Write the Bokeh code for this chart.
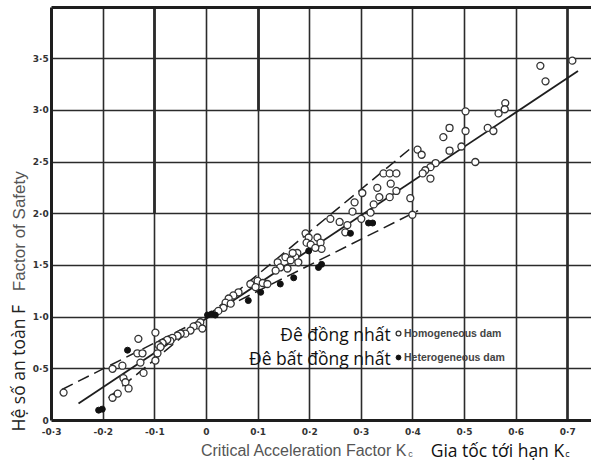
from math import pi
from bokeh.plotting import figure
from bokeh.models import (Range1d, FixedTicker, Label, Legend, LegendItem, LinearAxis, Grid)
from bokeh.embed import file_html
from bokeh.resources import INLINE

# ---- tick labels ----
x_ticks = [-0.3, -0.2, -0.1, 0, 0.1, 0.2, 0.3, 0.4, 0.5, 0.6, 0.7]
x_tick_labels = ["-0·3", "-0·2", "-0·1", "0", "0·1", "0·2", "0·3", "0·4", "0·5", "0·6", "0·7"]
y_ticks = [0, 0.5, 1, 1.5, 2, 2.5, 3, 3.5]
y_tick_labels = ["0", "0·5", "1·0", "1·5", "2·0", "2·5", "3·0", "3·5"]

# ---- homogeneous dams (open circles): critical acceleration factor, factor of safety ----
homog_k = [0.709, 0.647, 0.657, 0.579, 0.578, 0.566, 0.502, 0.545, 0.556, 0.502,
           0.471, 0.459, 0.471, 0.494, 0.521, 0.444, 0.434, 0.424, 0.419, 0.434,
           0.409, 0.417, 0.395, 0.399,
           0.343, 0.355, 0.368, 0.357, 0.331, 0.368, 0.355, 0.335, 0.324, 0.302,
           0.287, 0.283, 0.318, 0.300, 0.240, 0.258, 0.273, 0.269,
           0.192, 0.198, 0.194, 0.202, 0.215, 0.221, 0.223, 0.211, 0.176, 0.172,
           0.167, 0.153, 0.163, 0.138, 0.143, 0.157, 0.134, 0.178,
           0.099, 0.109, 0.085, 0.095, 0.118, 0.062, 0.052, 0.043, 0.037, 0.047,
           0.033, 0.023,
           -0.012, -0.017, -0.025, -0.008, -0.031, -0.041, -0.050, -0.056, -0.066,
           -0.070, -0.076, -0.085, -0.093, -0.089, -0.095, -0.099, -0.099,
           -0.132, -0.134, -0.124, -0.128, -0.122, -0.182, -0.163, -0.161, -0.157,
           -0.151, -0.182, -0.172, -0.277]
homog_f = [3.48, 3.43, 3.28, 3.07, 3.01, 2.97, 2.99, 2.83, 2.80, 2.80,
           2.83, 2.74, 2.61, 2.65, 2.50, 2.49, 2.45, 2.42, 2.39, 2.34,
           2.62, 2.57, 2.15, 1.99,
           2.39, 2.39, 2.39, 2.29, 2.25, 2.22, 2.16, 2.16, 2.09, 2.20,
           2.11, 2.02, 2.01, 1.95, 1.95, 1.92, 1.89, 1.82,
           1.81, 1.77, 1.72, 1.70, 1.77, 1.72, 1.66, 1.67, 1.62, 1.58,
           1.62, 1.58, 1.55, 1.53, 1.48, 1.47, 1.45, 1.53,
           1.35, 1.33, 1.32, 1.29, 1.32, 1.24, 1.21, 1.18, 1.14, 1.13,
           1.09, 1.06,
           0.95, 0.92, 0.91, 0.89, 0.87, 0.84, 0.84, 0.82, 0.80,
           0.77, 0.78, 0.75, 0.73, 0.71, 0.65, 0.58, 0.85,
           0.79, 0.65, 0.65, 0.56, 0.46, 0.50, 0.53, 0.41, 0.37,
           0.31, 0.22, 0.26, 0.27]

# ---- heterogeneous dams (filled dots) ----
heter_k = [-0.209, -0.202, -0.153, 0.002, 0.010, 0.017, 0.081, 0.105, 0.143,
           0.169, 0.198, 0.217, 0.223, 0.279, 0.314, 0.322]
heter_f = [0.10, 0.11, 0.68, 1.02, 1.03, 1.02, 1.16, 1.24, 1.32,
           1.38, 1.64, 1.48, 1.51, 1.81, 1.91, 1.91]

# ---- mean line and dashed envelope lines ----
fit_k = [-0.248, 0.72]
fit_f = [0.165, 3.38]
env_steep_k = [-0.19, 0.40]
env_steep_f = [0.22, 2.65]
env_flat_k = [-0.28, 0.41]
env_flat_f = [0.30, 2.03]

# heavier printed stubs of some vertical rules (from the top down to these values)
stub_k = [-0.1, 0.1]
stub_f = [2.0, 3.0]

INK = "#1e1e1e"
GRID = "#2b2b2b"
X0, XMAX = -0.3, 0.746
TOP = 3.99

p = figure(width=591, height=461,
           x_range=Range1d(-0.3992, 0.7461), y_range=Range1d(-0.3965, 4.0619),
           output_backend="svg", toolbar_location=None,
           x_axis_location=None, y_axis_location=None,
           min_border_left=0, min_border_right=0, min_border_top=0, min_border_bottom=0)
p.outline_line_color = None
p.background_fill_color = "white"
p.border_fill_color = "white"
p.xgrid.visible = False
p.ygrid.visible = False


def rules(dim, ticks, c0, c1, width):
    try:
        g = Grid(dimension=dim, ticker=FixedTicker(ticks=ticks), cross_bounds=(c0, c1),
                 grid_line_color=GRID, grid_line_width=width)
        p.add_layout(g)
    except AttributeError:
        n = len(ticks)
        if dim == 0:
            p.segment(x0=ticks, y0=[c0] * n, x1=ticks, y1=[c1] * n,
                      line_color=GRID, line_width=width)
        else:
            p.segment(x0=[c0] * n, y0=ticks, x1=[c1] * n, y1=ticks,
                      line_color=GRID, line_width=width)


rules(0, x_ticks[1:], 0, TOP, 1.6)
rules(1, y_ticks[1:], X0, XMAX, 1.6)
rules(0, [x_ticks[-1]], 0, TOP, 2.6)
for k, f in zip(stub_k, stub_f):
    rules(0, [k], f, TOP, 2.8)


def style_axis(ax):
    ax.axis_line_width = 3
    ax.axis_line_color = INK
    ax.major_tick_in = 0
    ax.major_tick_out = 0
    ax.minor_tick_line_color = None
    ax.major_label_text_font = "DejaVu Sans"
    ax.major_label_text_font_size = "9px"
    ax.major_label_text_font_style = "bold"
    ax.major_label_text_color = "#333333"


xaxis = LinearAxis(fixed_location=0, bounds=(X0, XMAX), ticker=FixedTicker(ticks=x_ticks),
                   major_label_overrides=dict(zip(x_ticks, x_tick_labels)),
                   major_label_standoff=6)
style_axis(xaxis)
p.add_layout(xaxis, "below")

yaxis = LinearAxis(fixed_location=X0, bounds=(0, TOP), ticker=FixedTicker(ticks=y_ticks),
                   major_label_overrides=dict(zip(y_ticks, y_tick_labels)),
                   major_label_standoff=3)
style_axis(yaxis)
p.add_layout(yaxis, "left")

topaxis = LinearAxis(fixed_location=TOP, bounds=(X0, XMAX), ticker=FixedTicker(ticks=[]),
                     major_label_text_font_size="0px")
style_axis(topaxis)
p.add_layout(topaxis, "above")

# lines
p.line(fit_k, fit_f, line_color=INK, line_width=1.8)
p.line(env_steep_k, env_steep_f, line_color=INK, line_width=1.5, line_dash="12 6")
p.line(env_flat_k, env_flat_f, line_color=INK, line_width=1.5, line_dash="12 6")

r_open = p.scatter(homog_k, homog_f, marker="circle", size=7, fill_color="white",
                   line_color="#333333", line_width=1.3)
r_fill = p.scatter(heter_k, heter_f, marker="circle", size=6, fill_color="#111111",
                   line_color="#111111", line_width=1)

legend = Legend(items=[LegendItem(label="Homogeneous dam", renderers=[r_open]),
                       LegendItem(label="Heterogeneous dam", renderers=[r_fill])],
                location=(392, 94), orientation="vertical",
                glyph_width=12, glyph_height=20, label_height=20, spacing=4,
                padding=0, margin=0, label_standoff=0,
                background_fill_alpha=0, border_line_color=None,
                label_text_font="Liberation Sans", label_text_font_size="10.5px",
                label_text_font_style="bold", label_text_color="#444444")
p.add_layout(legend)


def lab(x, y, text, size, color, font, **kw):
    p.add_layout(Label(x=x, y=y, text=text, text_font=font, text_font_size=size,
                       text_color=color, **kw))


# Vietnamese legend texts
lab(0.357, 0.841, "Đê đồng nhất", "17.5px", "#111111", "Open Sans",
    text_align="right", text_baseline="middle")
lab(0.357, 0.609, "Đê bất đồng nhất", "17.5px", "#111111", "Open Sans",
    text_align="right", text_baseline="middle")

# y axis titles
lab(-0.366, -0.106, "Hệ số an toàn F", "17.5px", "#222222", "Open Sans",
    angle=pi / 2, text_align="left", text_baseline="middle")
lab(-0.362, 1.25, "Factor of Safety", "17px", "#555555", "Liberation Sans",
    angle=pi / 2, text_align="left", text_baseline="middle")

# x axis titles
lab(0.389, -0.29, "Critical Acceleration Factor K", "16px", "#555555", "Liberation Sans",
    text_align="right", text_baseline="middle")
lab(0.391, -0.322, "c", "9px", "#555555", "Liberation Sans",
    text_align="left", text_baseline="middle")
lab(0.693, -0.29, "Gia tốc tới hạn K", "17.5px", "#111111", "Open Sans",
    text_align="right", text_baseline="middle")
lab(0.695, -0.322, "c", "9px", "#111111", "Open Sans",
    text_align="left", text_baseline="middle")

open("out.html", "w").write(file_html(p, INLINE))
